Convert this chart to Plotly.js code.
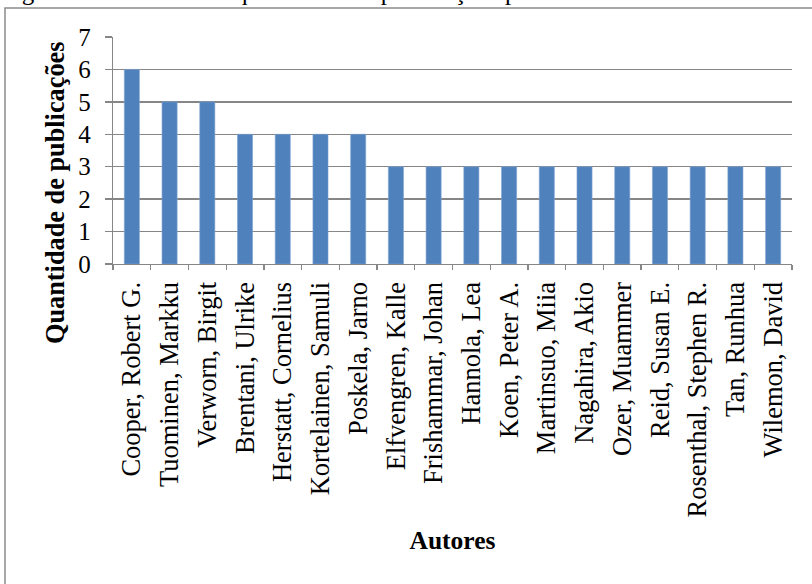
<!DOCTYPE html>
<html>
<head>
<meta charset="utf-8">
<script src="https://cdn.plot.ly/plotly-3.0.1.min.js"></script>
<style>html,body{margin:0;padding:0;background:#fff;}#chart{width:812px;height:584px;}</style>
</head>
<body>
<div id="chart"></div>
<script>
const authors = ["Cooper, Robert G.", "Tuominen, Markku", "Verworn, Birgit", "Brentani, Ulrike", "Herstatt, Cornelius", "Kortelainen, Samuli", "Poskela, Jarno", "Elfvengren, Kalle", "Frishammar, Johan", "Hannola, Lea", "Koen, Peter A.", "Martinsuo, Miia", "Nagahira, Akio", "Ozer, Muammer", "Reid, Susan E.", "Rosenthal, Stephen R.", "Tan, Runhua", "Wilemon, David"];
const publications = [6, 5, 5, 4, 4, 4, 4, 3, 3, 3, 3, 3, 3, 3, 3, 3, 3, 3];
const yTicks = [0, 1, 2, 3, 4, 5, 6, 7];
const captionText = "Figura 25 – Gráfico da quantidade de publicações por autor";
const xTitle = "Autores";
const yTitle = "Quantidade de publicações";

const W = 812, H = 584;
const L = 113, R = 20, T = 37, B = 320;
const pw = W - L - R, ph = H - T - B;
const px = v => (v - L) / pw;
const py = v => (H - B - v) / ph;

const serif = "'Liberation Serif', 'Times New Roman', serif";

Plotly.newPlot('chart', [{
  type: 'bar',
  x: authors,
  y: publications,
  marker: {color: '#4F81BD', line: {color: '#7FA3D0', width: 0.6}},
  width: 0.4,
  hoverinfo: 'x+y'
}], {
  width: W, height: H,
  margin: {l: L, r: R, t: T, b: B, pad: 0},
  paper_bgcolor: '#fff', plot_bgcolor: '#fff',
  showlegend: false,
  font: {family: serif, color: '#000'},
  xaxis: {
    type: 'category',
    tickangle: -90,
    tickfont: {family: serif, size: 26.5, color: '#000'},
    ticks: 'outside', ticklen: 5, tickcolor: '#868686', tickwidth: 1.3,
    tickson: 'boundaries',
    showline: true, linecolor: '#868686', linewidth: 1.3,
    showgrid: false,
    automargin: false,
    ticklabelstandoff: 6,
    title: {text: xTitle, font: {family: serif, size: 25.5, color: '#000', weight: 'bold'}, standoff: 14}
  },
  yaxis: {
    range: [0, 7],
    tickvals: yTicks,
    ticktext: yTicks.map(String),
    tickfont: {family: serif, size: 25, color: '#000'},
    ticks: 'outside', ticklen: 7, tickcolor: '#868686', tickwidth: 1.3,
    showline: true, linecolor: '#868686', linewidth: 1.3,
    showgrid: true, gridcolor: '#868686', gridwidth: 1.3,
    zeroline: false,
    automargin: false,
    ticklabelstandoff: 9
  },
  shapes: [{
    type: 'rect', xref: 'paper', yref: 'paper',
    x0: px(5), x1: px(830), y0: py(600), y1: py(8),
    line: {color: '#8C8C8C', width: 1.5}, fillcolor: 'rgba(0,0,0,0)', layer: 'below'
  }],
  annotations: [{
    text: captionText, xref: 'paper', yref: 'paper',
    x: px(-1), y: py(5), xanchor: 'left', yanchor: 'bottom', yshift: -2,
    showarrow: false, font: {family: serif, size: 25, color: '#000'}
  }, {
    text: yTitle, xref: 'paper', yref: 'paper',
    x: px(55), y: py(193), xanchor: 'center', yanchor: 'middle',
    textangle: -90, showarrow: false,
    font: {family: serif, size: 26.3, color: '#000', weight: 'bold'}
  }]
}, {displayModeBar: false, staticPlot: true});
</script>
</body>
</html>
